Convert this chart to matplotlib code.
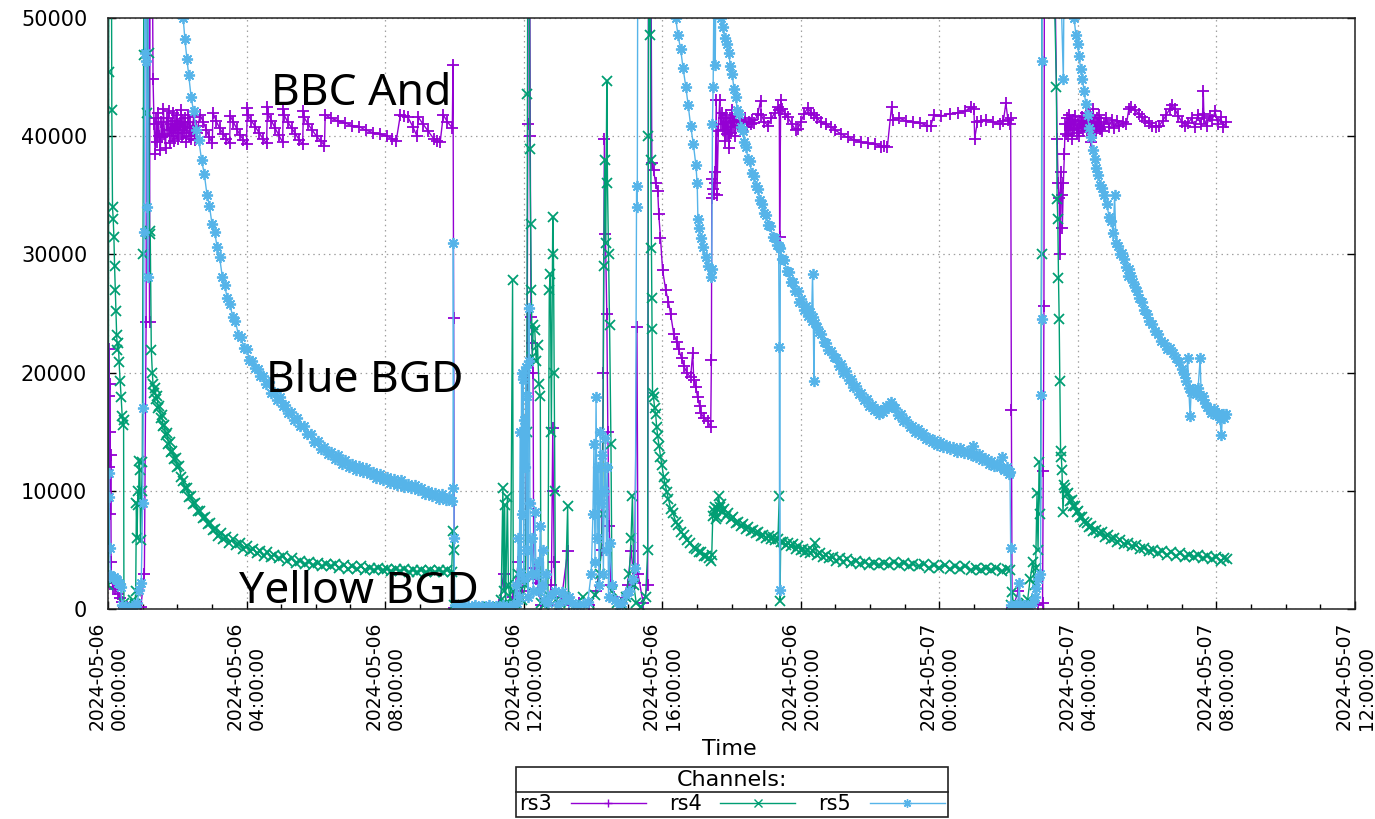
#!/usr/bin/env python3
"""BBC rates (rs3/rs4/rs5) over 2024-05-06 .. 2024-05-07, gnuplot look."""

import matplotlib

matplotlib.use("Agg")
import matplotlib.pyplot as plt
import matplotlib.dates as mdates
from matplotlib.lines import Line2D
import pandas as pd

BASE = pd.Timestamp("2024-05-06 00:00:00")

# (hours since 2024-05-06 00:00, rate), segment by segment
rs3_run1 = [(0.01, 3000), (0.02, 18000), (0.03, 22000), (0.04, 12000), (0.05, 19000), (0.06, 15000),
            (0.07, 8000), (0.08, 13000), (0.09, 4000), (0.10, 2600), (0.14, 1900), (0.20, 1700),
            (0.28, 1300), (0.36, 900), (0.41, 600), (0.45, 100), (0.60, 50), (0.80, 100), (0.95, 200),
            (1.05, 3000), (1.10, 24300), (1.12, 72000), (1.16, 62000), (1.20, 24300), (1.22, 72000),
            (1.28, 56000), (1.30, 44800), (1.33, 41000)]
rs3_band1 = [(1.36, 38500), (1.39, 41500), (1.42, 39500), (1.45, 42000), (1.48, 40000), (1.51, 38800),
             (1.54, 41200), (1.57, 39900), (1.60, 42300), (1.63, 40200), (1.66, 39000), (1.69, 41500),
             (1.72, 40500), (1.75, 42100), (1.78, 39400), (1.81, 41000), (1.84, 40000), (1.87, 42000),
             (1.90, 39600), (1.93, 41300), (1.96, 40300), (1.99, 41800), (2.02, 39800), (2.05, 41000),
             (2.08, 40500), (2.11, 42200), (2.14, 39900), (2.17, 41200), (2.20, 40300), (2.23, 41500),
             (2.26, 39500), (2.29, 40800), (2.32, 41800), (2.35, 40000), (2.38, 41200), (2.41, 39800),
             (2.44, 40700), (2.47, 41600), (2.50, 39700), (2.53, 40900), (2.56, 40300)]
rs3_teeth = [(2.66, 41800), (2.75, 41200), (2.84, 40500), (2.93, 39900), (3.01, 39400),
             (3.03, 42000), (3.12, 41300), (3.22, 40700), (3.32, 40200), (3.42, 39800), (3.51, 39400),
             (3.53, 41700), (3.62, 41200), (3.72, 40600), (3.81, 40100), (3.91, 39700), (4.00, 39300),
             (4.02, 42400), (4.04, 41800), (4.14, 41300), (4.25, 40800), (4.36, 40300), (4.47, 39800),
             (4.58, 39400), (4.60, 42500), (4.62, 41900), (4.72, 41300), (4.82, 40700), (4.93, 40100),
             (5.04, 39500), (5.06, 42300), (5.08, 41800), (5.19, 41200), (5.30, 40700), (5.41, 40200),
             (5.52, 39700), (5.62, 39300), (5.64, 42100), (5.66, 41600), (5.78, 41000), (5.90, 40500),
             (6.02, 40000), (6.14, 39600), (6.25, 39200)]
rs3_tail1 = [(6.27, 41800), (6.45, 41500), (6.65, 41300), (6.85, 41100), (7.05, 40900), (7.25, 40800),
             (7.45, 40500), (7.65, 40300), (7.85, 40200), (8.05, 40000), (8.20, 39800), (8.32, 39600),
             (8.44, 41800), (8.55, 41700), (8.66, 41600), (8.80, 40800), (8.92, 40000), (8.96, 41600),
             (9.10, 41000), (9.25, 40400), (9.40, 39800), (9.50, 39600), (9.59, 39500), (9.68, 41800),
             (9.80, 41200), (9.94, 40700), (9.96, 46000), (9.98, 24600), (10.00, 100)]
rs3_burst2 = [(10.02, 100), (10.50, 50), (11.00, 100), (11.30, 300), (11.42, 3000), (11.50, 200),
              (11.70, 1000), (11.85, 4000), (11.95, 1500), (12.05, 3000), (12.10, 20000), (12.12, 41000),
              (12.14, 72000), (12.17, 62000), (12.19, 40000), (12.21, 24700), (12.24, 22500),
              (12.27, 20000), (12.29, 3500), (12.33, 3000), (12.37, 2500), (12.41, 2200), (12.45, 1500),
              (12.50, 300), (12.70, 500), (12.80, 2000), (12.84, 15300), (12.86, 10000), (12.88, 4000),
              (12.92, 300), (13.10, 1000), (13.27, 4900), (13.30, 300), (13.60, 500), (13.90, 300),
              (14.10, 1500), (14.25, 5000), (14.30, 20000), (14.33, 39800), (14.36, 31700),
              (14.40, 25000), (14.43, 15000), (14.47, 7000), (14.52, 2000), (14.60, 1000), (14.80, 500),
              (15.00, 2000), (15.10, 4900), (15.20, 2200), (15.27, 23900), (15.30, 3000), (15.45, 500),
              (15.58, 2000), (15.61, 72000), (15.66, 66000)]
rs3_decay3 = [(15.70, 37700), (15.75, 37100), (15.81, 36000), (15.87, 35400), (15.90, 33400),
              (15.95, 31400), (16.01, 28700), (16.10, 27000), (16.18, 26000), (16.24, 25000),
              (16.33, 23300), (16.42, 22600), (16.47, 22000), (16.56, 21200), (16.62, 20600),
              (16.71, 20000), (16.82, 19600), (16.88, 21700), (16.91, 19400), (16.97, 18800),
              (17.02, 17900), (17.08, 17200), (17.11, 16600), (17.20, 16200), (17.31, 15900),
              (17.40, 15400), (17.42, 21100), (17.43, 34800), (17.45, 36400), (17.47, 35500),
              (17.49, 35100), (17.51, 37000), (17.53, 36000), (17.56, 43100), (17.58, 35000),
              (17.62, 40400), (17.66, 43100), (17.69, 41000)]
rs3_band3 = [(17.72, 42000), (17.75, 40500), (17.78, 41500), (17.81, 39600), (17.84, 41800),
             (17.87, 40200), (17.90, 41200), (17.93, 39000), (17.96, 41500), (17.99, 40300),
             (18.02, 42200), (18.05, 40800), (18.08, 41300), (18.11, 40000), (18.14, 41600),
             (18.18, 40900), (18.22, 41400), (18.26, 40700), (18.30, 41200), (18.35, 41000),
             (18.40, 41500), (18.45, 40800), (18.50, 41200), (18.55, 41000), (18.60, 41400),
             (18.65, 41100), (18.76, 41900), (18.84, 43000), (18.86, 41800), (18.95, 41200),
             (19.05, 40900), (19.15, 41500), (19.25, 42000), (19.34, 42500), (19.38, 42200),
             (19.39, 31500), (19.42, 43100), (19.45, 42300), (19.55, 41900), (19.62, 41600),
             (19.75, 41000), (19.85, 40500), (19.91, 40600), (20.00, 41200), (20.10, 41900),
             (20.20, 42400), (20.30, 42000), (20.38, 41800), (20.48, 41500), (20.58, 41200),
             (20.72, 41000), (20.87, 40800), (21.00, 40500), (21.16, 40200), (21.35, 39900),
             (21.55, 39700), (21.75, 39500), (21.95, 39400), (22.15, 39300), (22.31, 39100),
             (22.40, 39200), (22.50, 39100), (22.62, 42500), (22.66, 41400), (22.85, 41500),
             (23.05, 41300), (23.25, 41200), (23.45, 41100), (23.65, 40900), (23.76, 40900),
             (23.84, 41800), (24.05, 41700), (24.30, 41900), (24.55, 42000), (24.75, 42100),
             (24.90, 42500), (25.00, 42300), (25.02, 39800), (25.10, 41200), (25.20, 41300),
             (25.35, 41400), (25.55, 41200), (25.75, 41000), (25.85, 41300), (25.92, 42800),
             (25.98, 41400), (26.03, 41000), (26.06, 41500), (26.08, 16800), (26.10, 100)]
rs3_run4 = [(26.12, 100), (26.28, 1500), (26.32, 100), (26.60, 200), (26.85, 300), (26.98, 500),
            (27.00, 11700), (27.02, 25600), (27.04, 72000), (27.10, 66000), (27.30, 62000),
            (27.40, 39800), (27.43, 36000), (27.46, 34800), (27.48, 30000), (27.50, 37000),
            (27.53, 35000), (27.55, 32200), (27.58, 36000), (27.61, 38500), (27.63, 41000)]
rs3_band4 = [(27.66, 40200), (27.69, 41500), (27.72, 40000), (27.75, 41800), (27.78, 40500),
             (27.81, 41200), (27.84, 39800), (27.87, 41400), (27.90, 40600), (27.93, 41700),
             (27.96, 40300), (27.99, 41000), (28.02, 40000), (28.05, 41300), (28.08, 40700),
             (28.11, 41600), (28.14, 40400), (28.17, 41100), (28.20, 40800), (28.23, 42000),
             (28.26, 40500), (28.29, 41300), (28.32, 40600), (28.35, 41700), (28.38, 39500),
             (28.41, 41000), (28.44, 42300), (28.47, 40800), (28.50, 41200), (28.53, 40300),
             (28.56, 41500), (28.59, 40900), (28.62, 41800), (28.65, 40600), (28.68, 41200),
             (28.71, 40400), (28.75, 41000), (28.82, 41500), (28.90, 40800), (28.98, 41400),
             (29.05, 40700), (29.12, 41300), (29.20, 40900), (29.30, 41200), (29.40, 41000),
             (29.47, 42300), (29.54, 42500), (29.65, 42200), (29.75, 41900), (29.85, 41600),
             (29.95, 41300), (30.05, 41100), (30.15, 40900), (30.25, 40800), (30.35, 40900),
             (30.45, 41300), (30.55, 41800), (30.65, 42300), (30.72, 42600), (30.80, 42300),
             (30.90, 41700), (31.00, 41200), (31.10, 40900), (31.18, 41100), (31.28, 41500),
             (31.38, 40800), (31.46, 41800), (31.54, 41000), (31.60, 41900), (31.62, 43800),
             (31.64, 41500), (31.72, 40900), (31.80, 41700), (31.88, 41400), (31.96, 42100),
             (32.04, 41000), (32.12, 41600), (32.20, 40800), (32.28, 41200)]

rs4_run1 = [(0.01, 2000), (0.02, 45400), (0.03, 70000), (0.08, 62000), (0.10, 55000), (0.11, 42200),
            (0.13, 34000), (0.15, 33000), (0.17, 31500), (0.19, 29000), (0.21, 27000), (0.23, 25200),
            (0.25, 23200), (0.27, 21900), (0.30, 22500), (0.32, 20900), (0.35, 19300), (0.38, 17900),
            (0.41, 16300), (0.43, 15600), (0.45, 16000), (0.46, 500), (0.55, 300), (0.65, 200),
            (0.72, 800), (0.78, 400), (0.80, 1500), (0.82, 9000), (0.84, 6000), (0.86, 10000),
            (0.88, 8800), (0.90, 12500), (0.92, 11800), (0.94, 5800), (0.97, 10000), (0.99, 12400),
            (1.01, 30000), (1.03, 46900), (1.05, 72000), (1.10, 66000), (1.14, 42000), (1.17, 47000),
            (1.20, 32000), (1.22, 31700), (1.25, 21900), (1.28, 20000)]
rs4_decay1 = [(1.30, 19000), (1.33, 18300), (1.36, 18700), (1.39, 17800), (1.42, 18000), (1.45, 17000),
              (1.48, 17200), (1.52, 16200), (1.55, 16400), (1.59, 15500), (1.62, 15600), (1.66, 14700),
              (1.70, 14900), (1.74, 14000), (1.78, 14100), (1.82, 13300), (1.86, 13400), (1.90, 12700),
              (1.95, 12800), (2.00, 12000), (2.05, 12100), (2.11, 11200), (2.17, 10800), (2.22, 10200),
              (2.28, 10200), (2.34, 9500), (2.40, 9600), (2.46, 8900), (2.52, 9000), (2.59, 8300),
              (2.66, 8300), (2.73, 7700), (2.80, 7800), (2.88, 7200), (2.95, 7300), (3.03, 6700),
              (3.10, 6800), (3.18, 6200), (3.25, 6400), (3.33, 5900), (3.40, 6100), (3.50, 5600),
              (3.60, 5900), (3.70, 5400), (3.80, 5600), (3.90, 5100), (4.00, 5300), (4.10, 4900),
              (4.20, 5100), (4.30, 4700), (4.40, 4900), (4.50, 4500), (4.60, 4800), (4.70, 4400),
              (4.80, 4600), (4.93, 4300), (5.06, 4500), (5.18, 4100), (5.30, 4300), (5.42, 3900),
              (5.55, 4100), (5.68, 3800), (5.80, 4000), (5.93, 3700), (6.05, 3900), (6.18, 3600),
              (6.30, 3800), (6.43, 3600), (6.55, 3800), (6.68, 3500), (6.80, 3700), (6.93, 3400),
              (7.05, 3600), (7.18, 3400), (7.30, 3600), (7.43, 3300), (7.55, 3500), (7.68, 3300),
              (7.80, 3500), (7.93, 3300), (8.05, 3400), (8.18, 3200), (8.30, 3400), (8.43, 3200),
              (8.55, 3400), (8.68, 3100), (8.80, 3300), (8.93, 3100), (9.05, 3300), (9.18, 3100),
              (9.30, 3300), (9.43, 3100), (9.55, 3300), (9.68, 3100), (9.80, 3300), (9.92, 3100)]
rs4_burst2 = [(9.96, 6600), (9.98, 5000), (10.00, 300), (10.10, 200), (10.40, 100), (10.70, 150),
              (11.00, 200), (11.25, 150), (11.35, 800), (11.40, 10200), (11.42, 1500), (11.45, 8800),
              (11.48, 500), (11.53, 9500), (11.56, 2000), (11.62, 300), (11.68, 27800), (11.70, 1500),
              (11.75, 500), (11.85, 3000), (11.95, 800), (12.05, 2000), (12.09, 15000), (12.11, 43600),
              (12.13, 72000), (12.16, 66000), (12.18, 38900), (12.20, 32600), (12.22, 27000),
              (12.25, 21300), (12.28, 24000), (12.32, 23600), (12.36, 21000), (12.40, 22300),
              (12.44, 19000), (12.48, 18000), (12.50, 500), (12.60, 300), (12.70, 1200), (12.74, 27000),
              (12.77, 28300), (12.80, 15000), (12.84, 33200), (12.86, 30000), (12.88, 20000),
              (12.90, 10000), (12.92, 800), (13.05, 500), (13.20, 1000), (13.27, 8700), (13.30, 600),
              (13.50, 400), (13.70, 1000), (13.90, 500), (14.05, 1200), (14.20, 3000), (14.28, 8000),
              (14.31, 29000), (14.34, 38000), (14.37, 31000), (14.40, 44700), (14.42, 36000),
              (14.45, 30000), (14.48, 24000), (14.52, 14000), (14.55, 1500), (14.70, 500), (14.85, 300),
              (14.95, 1000), (15.05, 3000), (15.10, 6000), (15.14, 9600), (15.18, 2000), (15.25, 500),
              (15.40, 200), (15.52, 1000), (15.58, 5000), (15.60, 40000), (15.62, 72000), (15.65, 48600),
              (15.66, 60000), (15.67, 38000), (15.69, 30500), (15.70, 26300), (15.71, 23700)]
rs4_decay3 = [(15.72, 18300), (15.75, 17900), (15.78, 17000), (15.81, 16500), (15.84, 15400),
              (15.87, 14600), (15.91, 13800), (15.95, 12900), (15.99, 12200), (16.04, 11200),
              (16.08, 10600), (16.13, 9900), (16.18, 9300), (16.24, 8500), (16.31, 8100), (16.39, 7400),
              (16.46, 7100), (16.53, 6500), (16.62, 6300), (16.71, 5800), (16.81, 5600), (16.91, 5200),
              (16.98, 5100), (17.05, 4800), (17.12, 4800), (17.20, 4500), (17.27, 4500), (17.34, 4300),
              (17.40, 4100), (17.43, 4600), (17.46, 7900), (17.49, 8300), (17.51, 8600), (17.54, 7600),
              (17.57, 7800), (17.60, 8500), (17.63, 9600), (17.66, 8600), (17.69, 8900), (17.73, 8300),
              (17.77, 8500), (17.84, 7900), (17.91, 8100), (17.98, 7600), (18.05, 7800), (18.12, 7300),
              (18.20, 7400), (18.27, 7000), (18.34, 7200), (18.42, 6800), (18.49, 6900), (18.55, 6600),
              (18.63, 6700), (18.70, 6400), (18.77, 6500), (18.84, 6200), (18.92, 6300), (19.00, 6000),
              (19.07, 6200), (19.13, 5900), (19.20, 6100), (19.27, 5800), (19.34, 5900), (19.38, 9600),
              (19.40, 700), (19.42, 5700), (19.50, 5700), (19.57, 5400), (19.64, 5600), (19.71, 5300),
              (19.78, 5500), (19.85, 5100), (19.92, 5300), (20.00, 5000), (20.07, 5100), (20.13, 4800),
              (20.20, 5000), (20.28, 4700), (20.35, 4900), (20.40, 5600), (20.46, 4600), (20.55, 4700),
              (20.63, 4400), (20.72, 4600), (20.82, 4300), (20.92, 4400), (21.02, 4100), (21.12, 4300),
              (21.22, 4000), (21.32, 4200), (21.45, 3900), (21.59, 4100), (21.72, 3800), (21.85, 4000),
              (21.98, 3700), (22.11, 3900), (22.25, 3700), (22.40, 3900), (22.55, 3700), (22.69, 4000),
              (22.83, 3700), (22.97, 3900), (23.11, 3600), (23.25, 3800), (23.40, 3600), (23.55, 3800),
              (23.70, 3500), (23.85, 3700), (24.00, 3500), (24.15, 3700), (24.30, 3400), (24.45, 3600),
              (24.60, 3400), (24.75, 3600), (24.90, 3300), (25.05, 3500), (25.20, 3300), (25.35, 3500),
              (25.50, 3300), (25.65, 3500), (25.80, 3200), (25.95, 3400), (26.05, 3300)]
rs4_run5 = [(26.08, 300), (26.10, 1400), (26.15, 200), (26.25, 300), (26.40, 300), (26.50, 500),
            (26.55, 800), (26.62, 2500), (26.70, 4000), (26.75, 2000), (26.78, 3500), (26.82, 9800),
            (26.85, 5000), (26.88, 12400), (26.92, 8000), (26.95, 30000), (26.97, 72000), (27.10, 66000),
            (27.25, 62000), (27.38, 44200), (27.40, 34700), (27.42, 33000), (27.44, 28000),
            (27.46, 24500), (27.48, 19300), (27.50, 13400)]
rs4_decay5 = [(27.52, 12900), (27.54, 11800), (27.57, 8200), (27.60, 10500), (27.64, 10200),
              (27.68, 9700), (27.72, 9800), (27.77, 9100), (27.82, 9200), (27.86, 8700), (27.91, 8700),
              (27.96, 8200), (28.01, 8300), (28.07, 7800), (28.13, 7800), (28.18, 7400), (28.25, 7300),
              (28.32, 6900), (28.38, 7000), (28.45, 6600), (28.53, 6700), (28.61, 6400), (28.69, 6500),
              (28.78, 6100), (28.87, 6300), (28.96, 5900), (29.05, 6000), (29.14, 5700), (29.23, 5800),
              (29.34, 5500), (29.45, 5600), (29.56, 5300), (29.68, 5400), (29.80, 5100), (29.92, 5200),
              (30.05, 4900), (30.18, 5000), (30.31, 4700), (30.44, 4900), (30.57, 4600), (30.70, 4800),
              (30.83, 4500), (30.96, 4700), (31.09, 4400), (31.22, 4600), (31.35, 4400), (31.48, 4600),
              (31.61, 4300), (31.74, 4500), (31.87, 4200), (32.00, 4400), (32.12, 4100), (32.22, 4300),
              (32.30, 4200)]

rs5_run1 = [(0.02, 11500), (0.03, 9500), (0.05, 5200), (0.07, 2900), (0.10, 2800), (0.14, 2650),
            (0.18, 2700), (0.22, 2500), (0.26, 2450), (0.30, 2200), (0.34, 2100), (0.37, 1900),
            (0.40, 300), (0.45, 100), (0.52, 200), (0.60, 100), (0.68, 250), (0.76, 150), (0.84, 500),
            (0.90, 1600), (0.96, 2200), (1.00, 9000), (1.02, 17000), (1.04, 31900), (1.06, 47000),
            (1.08, 62000), (1.11, 46400), (1.13, 34000), (1.15, 28100), (1.17, 64000), (1.50, 72000),
            (1.90, 62000), (2.10, 53000)]
rs5_decay1 = [(2.17, 50000), (2.22, 48200), (2.28, 46500), (2.33, 45200), (2.40, 43300), (2.47, 42100),
              (2.55, 40500), (2.62, 39700), (2.70, 38000), (2.78, 36800), (2.86, 35000), (2.93, 34100),
              (3.00, 32600), (3.08, 31900), (3.15, 30600), (3.22, 29800), (3.30, 28100), (3.37, 27400),
              (3.44, 26300), (3.52, 25800), (3.60, 24700), (3.68, 24400), (3.76, 23200), (3.84, 23000),
              (3.92, 22100), (4.00, 22000), (4.08, 21100), (4.16, 21000), (4.24, 20400), (4.32, 20300),
              (4.40, 19700), (4.48, 19700), (4.56, 19000), (4.64, 19200), (4.72, 18300), (4.80, 18400),
              (4.88, 17700), (4.96, 17900), (5.04, 17200), (5.12, 17300), (5.20, 16600), (5.28, 16700),
              (5.36, 16000), (5.45, 16200), (5.55, 15500), (5.65, 15500), (5.75, 14800), (5.85, 14800),
              (5.95, 14100), (6.05, 14200), (6.15, 13500), (6.25, 13700), (6.35, 13100), (6.45, 13300),
              (6.55, 12700), (6.65, 13000), (6.75, 12300), (6.85, 12600), (6.95, 12000), (7.05, 12300),
              (7.15, 11800), (7.25, 12100), (7.35, 11600), (7.45, 11900), (7.55, 11400), (7.65, 11600),
              (7.75, 11100), (7.85, 11400), (7.95, 10900), (8.05, 11200), (8.15, 10700), (8.25, 11000),
              (8.35, 10500), (8.45, 10900), (8.55, 10300), (8.65, 10600), (8.75, 10200), (8.85, 10500),
              (8.95, 10100), (9.05, 10200), (9.15, 9700), (9.25, 10000), (9.35, 9600), (9.45, 9800),
              (9.55, 9300), (9.65, 9700), (9.75, 9200), (9.85, 9500), (9.93, 9100)]
rs5_burst2 = [(9.96, 10200), (9.97, 31000), (9.99, 6000), (10.01, 300), (10.10, 200), (10.20, 300),
              (10.30, 150), (10.40, 250), (10.50, 200), (10.60, 300), (10.70, 150), (10.80, 250),
              (10.90, 200), (11.00, 300), (11.10, 150), (11.20, 250), (11.30, 200), (11.40, 300),
              (11.50, 150), (11.60, 250), (11.70, 300), (11.78, 2000), (11.81, 500), (11.84, 6000),
              (11.87, 1000), (11.90, 15000), (11.92, 3000), (11.94, 20000), (11.96, 8000), (11.98, 19500),
              (12.00, 2500), (12.02, 16000), (12.04, 12000), (12.06, 20500), (12.08, 5000), (12.10, 18000),
              (12.12, 1000), (12.14, 21000), (12.16, 25500), (12.18, 9000), (12.20, 3000), (12.24, 6000),
              (12.28, 1500), (12.32, 8200), (12.36, 3000), (12.40, 4000), (12.44, 1500), (12.48, 7000),
              (12.52, 2000), (12.56, 5000), (12.60, 800), (12.64, 3000), (12.70, 500), (12.80, 1200),
              (12.90, 1500), (13.00, 300), (13.10, 1400), (13.20, 800), (13.30, 1000), (13.40, 500),
              (13.55, 300), (13.70, 400), (13.85, 600), (13.95, 3000), (14.00, 8000), (14.03, 14000),
              (14.06, 4000), (14.09, 17900), (14.12, 6000), (14.15, 12000), (14.18, 2000), (14.21, 15000),
              (14.24, 9000), (14.27, 13000), (14.30, 3000), (14.33, 10000), (14.36, 14500), (14.39, 5000),
              (14.42, 12000), (14.45, 1000), (14.50, 5600), (14.55, 2000), (14.65, 800), (14.75, 300),
              (14.85, 500), (14.95, 1200), (15.05, 1500), (15.15, 2500), (15.22, 3500), (15.26, 35800),
              (15.28, 34000), (15.30, 66000), (15.80, 75000), (16.20, 62000)]
rs5_decay3 = [(16.39, 50000), (16.45, 48600), (16.53, 47400), (16.60, 45800), (16.68, 44200),
              (16.75, 42600), (16.82, 40900), (16.90, 39300), (16.97, 37600), (17.01, 36000),
              (17.03, 33000), (17.07, 32200), (17.11, 31400), (17.18, 30600), (17.25, 29800),
              (17.32, 29000), (17.40, 28100), (17.43, 28800), (17.45, 41000), (17.47, 44200),
              (17.50, 55000), (17.53, 46000), (17.58, 65000), (17.65, 56000)]
rs5_decay4 = [(17.69, 50000), (17.75, 49200), (17.80, 48300), (17.86, 47800), (17.92, 47000),
              (17.97, 45900), (18.02, 45300), (18.07, 44000), (18.12, 43300), (18.17, 42200),
              (18.22, 41900), (18.27, 40800), (18.32, 40400), (18.37, 39500), (18.42, 39100),
              (18.47, 38100), (18.52, 37900), (18.58, 36900), (18.64, 36600), (18.70, 35800),
              (18.76, 35500), (18.81, 34600), (18.87, 34300), (18.93, 33500), (18.99, 33300),
              (19.06, 32500), (19.12, 32400), (19.19, 31500), (19.25, 31400), (19.30, 30800),
              (19.36, 30700), (19.38, 22200), (19.39, 1600), (19.41, 30500), (19.47, 29600),
              (19.53, 29500), (19.59, 28600), (19.65, 28500), (19.71, 27700), (19.78, 27700),
              (19.84, 26900), (19.91, 26900), (19.96, 26000), (20.02, 26200), (20.08, 25300),
              (20.14, 25600), (20.20, 24800), (20.26, 25100), (20.31, 24400), (20.34, 28300),
              (20.36, 24700), (20.38, 19300), (20.40, 24200), (20.46, 23900), (20.52, 23400),
              (20.59, 23300), (20.66, 22600), (20.73, 22500), (20.80, 21900), (20.87, 21800),
              (20.95, 21300), (21.02, 21200), (21.09, 20600), (21.16, 20700), (21.23, 20000),
              (21.30, 20100), (21.38, 19400), (21.45, 19500), (21.52, 18800), (21.60, 18900),
              (21.67, 18200), (21.75, 18300), (21.82, 17700), (21.90, 17800), (21.97, 17200),
              (22.05, 17300), (22.12, 16800), (22.20, 16900), (22.26, 16500), (22.31, 16800),
              (22.38, 16700), (22.45, 17200), (22.52, 17000), (22.60, 17500), (22.66, 17100),
              (22.72, 17000), (22.80, 16400), (22.88, 16500), (22.96, 15900), (23.05, 16000),
              (23.14, 15400), (23.22, 15500), (23.30, 15000), (23.38, 15200), (23.46, 14700),
              (23.54, 14900), (23.62, 14400), (23.70, 14500), (23.78, 14100), (23.86, 14300),
              (23.94, 13900), (24.02, 14100), (24.10, 13700), (24.20, 13900), (24.30, 13500),
              (24.40, 13700), (24.50, 13300), (24.60, 13600), (24.70, 13200), (24.80, 13400),
              (24.90, 13000), (24.98, 13800), (25.06, 12900), (25.15, 13100), (25.24, 12600),
              (25.33, 12800), (25.42, 12300), (25.50, 12500), (25.58, 12100), (25.66, 12300),
              (25.74, 12000), (25.82, 12900), (25.88, 11800), (25.94, 12000), (26.00, 11400),
              (26.04, 11600), (26.06, 5200), (26.08, 300)]
rs5_run5 = [(26.14, 200), (26.20, 300), (26.26, 150), (26.30, 2200), (26.34, 400), (26.40, 200),
            (26.46, 300), (26.52, 150), (26.58, 250), (26.64, 400), (26.70, 600), (26.76, 1000),
            (26.80, 1800), (26.86, 2500), (26.92, 3000), (26.94, 18100), (26.95, 24500), (26.96, 46400),
            (26.98, 72000), (27.30, 76000), (27.58, 44800), (27.62, 62000), (27.80, 56000)]
rs5_decay5 = [(27.89, 50000), (27.94, 48600), (27.99, 47800), (28.03, 46800), (28.08, 45700),
              (28.13, 44800), (28.18, 43800), (28.23, 42700), (28.28, 41800), (28.32, 40700),
              (28.37, 39900), (28.43, 38800), (28.48, 38100), (28.53, 37300), (28.59, 36700),
              (28.65, 35900), (28.70, 35600), (28.76, 35000), (28.83, 34300), (28.90, 33200),
              (28.96, 32800), (29.02, 31800), (29.06, 35000), (29.10, 31000), (29.16, 30700),
              (29.22, 30000), (29.28, 30100), (29.34, 29600), (29.40, 28900), (29.44, 28200),
              (29.48, 28800), (29.54, 28200), (29.60, 27700), (29.66, 27200), (29.72, 26900),
              (29.77, 26300), (29.84, 26000), (29.92, 25300), (29.99, 25000), (30.06, 24400),
              (30.14, 24100), (30.22, 23500), (30.30, 23300), (30.40, 22700), (30.48, 22500),
              (30.57, 22000), (30.66, 22100), (30.75, 21700), (30.84, 21200), (30.92, 20900),
              (31.00, 20300), (31.07, 19900), (31.12, 19300), (31.17, 21200), (31.20, 18700),
              (31.24, 16300), (31.27, 18400), (31.33, 18600), (31.40, 18200), (31.47, 18700),
              (31.53, 21200), (31.56, 17900), (31.62, 18000), (31.68, 17400), (31.74, 17100),
              (31.80, 16800), (31.85, 16600), (31.92, 16900), (31.98, 16400), (32.04, 16600),
              (32.10, 16100), (32.14, 14700), (32.18, 16500), (32.23, 16200), (32.28, 16500)]

channels = {
    "rs3": rs3_run1 + rs3_band1 + rs3_teeth + rs3_tail1 + rs3_burst2 + rs3_decay3
           + rs3_band3 + rs3_run4 + rs3_band4,
    "rs4": rs4_run1 + rs4_decay1 + rs4_burst2 + rs4_decay3 + rs4_run5 + rs4_decay5,
    "rs5": rs5_run1 + rs5_decay1 + rs5_burst2 + rs5_decay3 + rs5_decay4 + rs5_run5 + rs5_decay5,
}
styles = {
    "rs3": dict(color="#9400d3", marker="+", ms=8.5),
    "rs4": dict(color="#009e73", marker="x", ms=6.5),
    "rs5": dict(color="#56b4e9", marker=(8, 2, 0), ms=8),
}
notes = [("BBC And", 4.70, 42600), ("Blue BGD", 4.55, 18400), ("Yellow BGD", 3.78, 500)]


def main() -> None:
    fig = plt.figure(figsize=(13.75, 8.19), dpi=100)
    ax = fig.add_axes([108 / 1375, 1 - 609 / 819, (1355 - 108) / 1375, (609 - 18) / 819])

    handles = []
    for name, pts in channels.items():
        df = pd.DataFrame(pts, columns=["h", "v"])
        t = BASE + pd.to_timedelta(df["h"], unit="h")
        (ln,) = ax.plot(t, df["v"], lw=1, mew=1.3, label=name, **styles[name])
        handles.append(ln)

    for text, h, v in notes:
        ax.text(BASE + pd.Timedelta(hours=h), v, text, fontsize=32, family="Noto Sans",
                ha="left", va="baseline", zorder=10)

    ax.set_xlim(BASE, BASE + pd.Timedelta(hours=36))
    ax.set_ylim(0, 50000)

    major = pd.date_range(BASE, periods=10, freq="4h")
    ax.set_xticks(major)
    ax.set_xticklabels([d.strftime("%Y-%m-%d\n%H:%M:%S") for d in major],
                       rotation=90, multialignment="left", fontsize=13.5)
    ax.xaxis.set_minor_locator(mdates.HourLocator())
    ax.set_yticks(range(0, 50001, 10000))
    ax.set_yticklabels([str(v) for v in range(0, 50001, 10000)], fontsize=15)

    ax.tick_params(axis="x", which="major", direction="in", length=6, width=1, pad=9, top=False)
    ax.tick_params(axis="x", which="minor", direction="in", length=3.5, width=1, top=False)
    ax.tick_params(axis="y", direction="in", length=6, width=1, pad=15, right=True)
    ax.grid(True, which="major", color="#a0a0a0", lw=0.9, ls=(0, (1.2, 3)))
    for s in ax.spines.values():
        s.set_linewidth(1.1)
        s.set_color("#222222")

    ax.set_xlabel("Time", fontsize=16)
    ax.xaxis.set_label_coords(0.498, (609 - 739) / 591)
    ax.xaxis.label.set_va("top")

    leg = fig.legend(handles=handles, labels=list(channels), loc="lower center",
                     bbox_to_anchor=(732 / 1375, 1 - 817 / 819), ncol=3, title="Channels:",
                     markerfirst=False, fancybox=False, framealpha=1, edgecolor="#222222",
                     fontsize=15, title_fontsize=16, handlelength=3.6, handletextpad=0.9,
                     columnspacing=1.1, borderpad=0.15, labelspacing=0.2, borderaxespad=0,
                     numpoints=1)
    leg.get_frame().set_linewidth(1.2)
    for h in leg.legend_handles:
        h.set_markersize(6)
        h.set_markeredgewidth(1)

    # gnuplot draws a rule between the key title and the entries
    fig.canvas.draw()
    W, H = fig.bbox.width, fig.bbox.height
    bb = leg.get_window_extent()
    tb = leg.get_title().get_window_extent()
    y = tb.y0 - 2
    fig.add_artist(Line2D([bb.x0 / W, bb.x1 / W], [y / H, y / H], transform=fig.transFigure,
                          color="#222222", lw=1.2, zorder=20))

    fig.savefig("out.png", dpi=100)
    plt.close(fig)


if __name__ == "__main__":
    main()
